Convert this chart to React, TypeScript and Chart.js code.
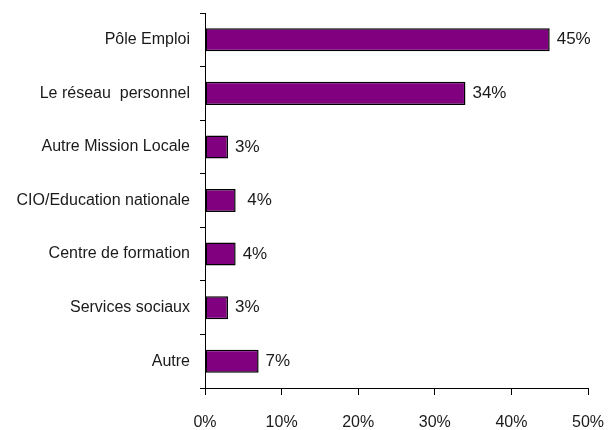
import React, { useEffect, useRef } from "react";
import { Chart, registerables } from "chart.js";

Chart.register(...registerables);

const categories = [
  "Pôle Emploi",
  "Le réseau  personnel",
  "Autre Mission Locale",
  "CIO/Education nationale",
  "Centre de formation",
  "Services sociaux",
  "Autre",
];
const values = [45, 34, 3, 4, 4, 3, 7];
const valueLabels = ["45%", "34%", "3%", " 4%", "4%", "3%", "7%"];
const xTicks = [0, 10, 20, 30, 40, 50];

const FONT = "'Liberation Sans', Arial, sans-serif";

const valueLabelPlugin = {
  id: "valueLabels",
  afterDatasetsDraw(chart: any) {
    const ctx = chart.ctx;
    const meta = chart.getDatasetMeta(0);
    ctx.save();
    ctx.font = `17px ${FONT}`;
    ctx.fillStyle = "#1a1a1a";
    ctx.textAlign = "left";
    ctx.textBaseline = "middle";
    meta.data.forEach((bar: any, i: number) => {
      ctx.fillText(valueLabels[i], bar.x + 7, bar.y);
    });
    ctx.restore();
  },
};

export default function App() {
  const ref = useRef<HTMLCanvasElement | null>(null);
  useEffect(() => {
    if (!ref.current) return;
    const chart = new Chart(ref.current, {
      type: "bar",
      data: {
        labels: categories,
        datasets: [
          {
            data: values,
            backgroundColor: "#800080",
            borderColor: "#000000",
            borderWidth: 1.5,
            borderSkipped: false,
            barPercentage: 0.43,
            categoryPercentage: 1,
          },
        ],
      },
      options: {
        indexAxis: "y",
        animation: false,
        responsive: false,
        maintainAspectRatio: false,
        layout: { padding: { top: 13, right: 20, left: 0, bottom: 0 } },
        plugins: {
          legend: { display: false },
          tooltip: { enabled: false },
        },
        scales: {
          x: {
            type: "linear",
            min: 0,
            max: 50,
            afterBuildTicks: (scale: any) => {
              scale.ticks = xTicks.map((v) => ({ value: v }));
            },
            afterFit: (scale: any) => {
              scale.height = 42;
              scale.paddingLeft = 0;
              scale.paddingRight = 0;
            },
            ticks: {
              callback: (v: any) => v + "%",
              font: { family: FONT, size: 16 },
              color: "#1a1a1a",
              padding: 18,
              maxRotation: 0,
            },
            grid: {
              drawOnChartArea: false,
              drawTicks: true,
              tickLength: 7,
              color: "#000000",
              lineWidth: 1,
            },
            border: { display: true, color: "#000000", width: 1 },
          },
          y: {
            afterFit: (scale: any) => {
              scale.width = 205;
              scale.paddingTop = 0;
              scale.paddingBottom = 0;
            },
            ticks: {
              font: { family: FONT, size: 16 },
              color: "#1a1a1a",
              padding: 10,
            },
            grid: {
              offset: true,
              drawOnChartArea: false,
              drawTicks: true,
              tickLength: 5,
              color: "#000000",
              lineWidth: 1,
            },
            border: { display: true, color: "#000000", width: 1 },
          },
        },
      },
      plugins: [valueLabelPlugin],
    });
    return () => chart.destroy();
  }, []);
  return (
    <div style={{ position: "fixed", left: 0, top: 0, width: 608, height: 430, background: "#fff" }}>
      <canvas ref={ref} width={608} height={430} style={{ width: 608, height: 430 }} />
    </div>
  );
}
